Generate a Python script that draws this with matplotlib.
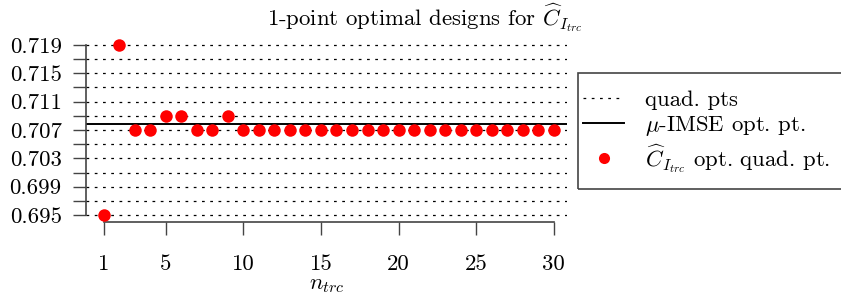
import matplotlib
matplotlib.use("Agg")
import matplotlib.pyplot as plt
from matplotlib.lines import Line2D
from matplotlib.patches import Rectangle

plt.rcParams['font.family'] = 'serif'
plt.rcParams['font.serif'] = ['cmr10']
plt.rcParams['mathtext.fontset'] = 'cm'
plt.rcParams['axes.formatter.use_mathtext'] = True

# number of training points
n_trc = list(range(1, 31))
# optimal quadrature point per n_trc
opt_quad_pt = [0.695, 0.719, 0.707, 0.707, 0.709, 0.709, 0.707, 0.707, 0.709,
               0.707, 0.707, 0.707, 0.707, 0.707, 0.707, 0.707, 0.707, 0.707,
               0.707, 0.707, 0.707, 0.707, 0.707, 0.707, 0.707, 0.707, 0.707,
               0.707, 0.707, 0.707]
# quadrature points
quad_pts = [0.695, 0.697, 0.699, 0.701, 0.703, 0.705, 0.707,
            0.709, 0.711, 0.713, 0.715, 0.717, 0.719]
# mu-IMSE optimal point
mu_imse_opt = 0.70785

ytick_labels = ['0.695', '0.699', '0.703', '0.707', '0.711', '0.715', '0.719']
xticks = [1, 5, 10, 15, 20, 25, 30]

fs = 16.4

fig = plt.figure(figsize=(8.41, 3.01), dpi=100)
ax = fig.add_axes([86/841, 1-222/301, (567-86)/841, (222-38)/301])

for q in quad_pts:
    ax.axhline(q, color='black', linestyle=(0, (2.2, 4.4)), linewidth=0.9, zorder=1)
ax.axhline(mu_imse_opt, color='black', linewidth=1.4, zorder=2)
ax.plot(n_trc, opt_quad_pt, 'o', color='red', markersize=9, markeredgewidth=0, zorder=3)

ax.set_xlim(-0.16, 30.87)
ax.set_ylim(0.694012, 0.719988)

for s in ['top', 'right']:
    ax.spines[s].set_visible(False)
ax.spines['left'].set_bounds(0.695, 0.719)
ax.spines['bottom'].set_bounds(1, 30)
for s in ['left', 'bottom']:
    ax.spines[s].set_color('#444444')
    ax.spines[s].set_linewidth(1.2)

ax.set_yticks(quad_pts[::2])
ax.set_yticklabels(ytick_labels)
ax.set_yticks(quad_pts[1::2], minor=True)
ax.set_xticks(xticks)
ax.set_xticklabels([str(x) for x in xticks])
ax.tick_params(axis='both', which='both', direction='out', length=9.5, width=1.0,
               color='#444444', labelsize=fs)
ax.tick_params(axis='x', pad=14)
ax.tick_params(axis='y', pad=8)

ax.set_xlabel(r'$n_{trc}$', fontsize=fs, labelpad=1)
fig.suptitle(r'1-point optimal designs for $\widehat{C}_{I_{trc}}$', fontsize=fs,
             x=0.505, y=0.995)

handles = [
    Line2D([], [], color='black', linestyle=(0, (2.2, 4.4)), linewidth=0.9),
    Line2D([], [], color='black', linewidth=1.4),
    Line2D([], [], marker='o', linestyle='none', color='red', markersize=8, markeredgewidth=0),
]
labels = ['quad. pts', r'$\mu$-IMSE opt. pt.', r'$\widehat{C}_{I_{trc}}$ opt. quad. pt.']
leg = fig.legend(handles, labels, loc='upper left', bbox_to_anchor=(583/841, 1-90/301),
                 fontsize=fs, frameon=False, handlelength=1.8, handletextpad=0.92,
                 borderpad=0, labelspacing=0.18, borderaxespad=0)
fig.add_artist(Rectangle((578/841, 1-189/301), 300/841, 116/301, transform=fig.transFigure,
                         fill=False, edgecolor='#444444', linewidth=1.2))

fig.savefig('out.png', dpi=100)
